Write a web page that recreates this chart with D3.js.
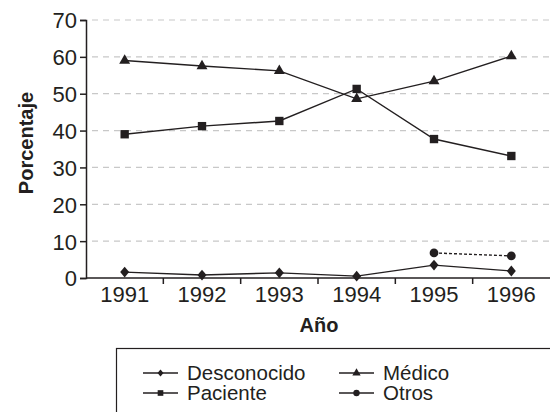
<!DOCTYPE html>
<html>
<head>
<meta charset="utf-8">
<script src="https://cdn.jsdelivr.net/npm/d3@7"></script>
<style>
  body { margin: 0; background: #fff; }
  text { font-family: "Liberation Sans", Arial, sans-serif; fill: #231f20; }
</style>
</head>
<body>
<div id="chart"></div>
<script>
const years = ["1991", "1992", "1993", "1994", "1995", "1996"];
const desconocido = [1.6, 0.8, 1.4, 0.5, 3.5, 1.9];
const medico = [59.0, 57.5, 56.2, 48.6, 53.4, 60.2];
const paciente = [39.0, 41.2, 42.6, 51.3, 37.7, 33.1];
const otros = [null, null, null, null, 6.8, 6.0];
const yTicks = [0, 10, 20, 30, 40, 50, 60, 70];

const width = 550, height = 412;
const margin = { left: 86, top: 20, right: 0, bottom: 134 };
const ink = "#231f20";

const svg = d3.select("#chart").append("svg")
  .attr("width", width)
  .attr("height", height);

const x = d3.scaleBand()
  .domain(years)
  .range([margin.left, width - margin.right]);

const y = d3.scaleLinear()
  .domain([0, 70])
  .range([height - margin.bottom, margin.top]);

// gridlines
svg.append("g")
  .selectAll("line")
  .data(yTicks.filter(d => d > 0))
  .enter()
  .append("line")
  .attr("x1", margin.left + 6)
  .attr("x2", width)
  .attr("y1", d => y(d))
  .attr("y2", d => y(d))
  .attr("stroke", "#c8c8c8")
  .attr("stroke-width", 1.2)
  .attr("stroke-dasharray", "6,5");

// y axis
const yAxis = svg.append("g")
  .attr("transform", "translate(" + margin.left + ",0)")
  .call(d3.axisLeft(y).tickValues(yTicks).tickSize(6).tickPadding(3));
yAxis.selectAll("text").style("font-size", "22px").attr("fill", ink).attr("dy", "0.36em");
yAxis.selectAll("path.domain, line").attr("stroke", ink).attr("stroke-width", 1.5);

// x axis, ticks at band boundaries
const xAxis = svg.append("g")
  .attr("transform", "translate(0," + y(0) + ")");
xAxis.append("line")
  .attr("x1", margin.left).attr("x2", width)
  .attr("stroke", ink).attr("stroke-width", 1.5);
xAxis.selectAll("line.tick")
  .data(years.slice(1))
  .enter()
  .append("line")
  .attr("class", "tick")
  .attr("x1", d => x(d)).attr("x2", d => x(d))
  .attr("y1", 0).attr("y2", 6)
  .attr("stroke", ink).attr("stroke-width", 1.5);
xAxis.selectAll("text")
  .data(years)
  .enter()
  .append("text")
  .attr("x", d => x(d) + x.bandwidth() / 2)
  .attr("y", 24)
  .attr("text-anchor", "middle")
  .style("font-size", "22px")
  .text(d => d);

// axis titles
svg.append("text")
  .attr("x", 319)
  .attr("y", 332)
  .attr("text-anchor", "middle")
  .style("font-size", "20px")
  .style("font-weight", "bold")
  .text("Año");

svg.append("text")
  .attr("transform", "translate(33,143) rotate(-90)")
  .attr("text-anchor", "middle")
  .style("font-size", "20px")
  .style("font-weight", "bold")
  .text("Porcentaje");

const cx = d => x(d) + x.bandwidth() / 2;

// diamond a bit taller than wide
const diamond = {
  draw(context, size) {
    const w = Math.sqrt(size) * 0.5, h = w * 1.2;
    context.moveTo(0, -h);
    context.lineTo(w, 0);
    context.lineTo(0, h);
    context.lineTo(-w, 0);
    context.closePath();
  }
};

const series = [
  { name: "Desconocido", values: desconocido, marker: "diamond", dash: null },
  { name: "Médico", values: medico, marker: "triangle", dash: null },
  { name: "Paciente", values: paciente, marker: "square", dash: null },
  { name: "Otros", values: otros, marker: "circle", dash: "3,2" }
];

const symbolFor = {
  diamond: d3.symbol().type(diamond).size(81),
  triangle: d3.symbol().type(d3.symbolTriangle).size(52),
  square: d3.symbol().type(d3.symbolSquare).size(70),
  circle: d3.symbol().type(d3.symbolCircle).size(60)
};

const line = d3.line()
  .defined(d => d.v !== null)
  .x(d => cx(d.year))
  .y(d => y(d.v));

series.forEach(s => {
  const pts = years.map((yr, i) => ({ year: yr, v: s.values[i] }));
  svg.append("path")
    .datum(pts)
    .attr("fill", "none")
    .attr("stroke", ink)
    .attr("stroke-width", 1.4)
    .attr("stroke-dasharray", s.dash)
    .attr("d", line);
  svg.append("g")
    .selectAll("path")
    .data(pts.filter(d => d.v !== null))
    .enter()
    .append("path")
    .attr("transform", d => "translate(" + cx(d.year) + "," + y(d.v) + ")")
    .attr("d", symbolFor[s.marker]())
    .attr("fill", ink);
});

// legend
const legend = svg.append("g");
legend.append("rect")
  .attr("x", 116.5).attr("y", 348.5)
  .attr("width", 450).attr("height", 80)
  .attr("fill", "none").attr("stroke", ink).attr("stroke-width", 1.2);

const legendItems = [
  { name: "Desconocido", marker: "diamond", col: 0, row: 0 },
  { name: "Médico", marker: "triangle", col: 1, row: 0 },
  { name: "Paciente", marker: "square", col: 0, row: 1 },
  { name: "Otros", marker: "circle", col: 1, row: 1 }
];
const legendSymbol = {
  diamond: d3.symbol().type(diamond).size(36),
  triangle: d3.symbol().type(d3.symbolTriangle).size(30),
  square: d3.symbol().type(d3.symbolSquare).size(32),
  circle: d3.symbol().type(d3.symbolCircle).size(32)
};
const colX = [143, 339];
const rowY = [373, 393];
const item = legend.selectAll("g.item")
  .data(legendItems)
  .enter()
  .append("g")
  .attr("class", "item")
  .attr("transform", d => "translate(" + colX[d.col] + "," + rowY[d.row] + ")");
item.append("line")
  .attr("x1", 0).attr("x2", 35)
  .attr("stroke", ink).attr("stroke-width", 1.4);
item.append("path")
  .attr("transform", "translate(17.5,0)")
  .attr("d", d => legendSymbol[d.marker]())
  .attr("fill", ink);
item.append("text")
  .attr("x", 44)
  .attr("y", 6.5)
  .style("font-size", "20.5px")
  .text(d => d.name);
</script>
</body>
</html>
